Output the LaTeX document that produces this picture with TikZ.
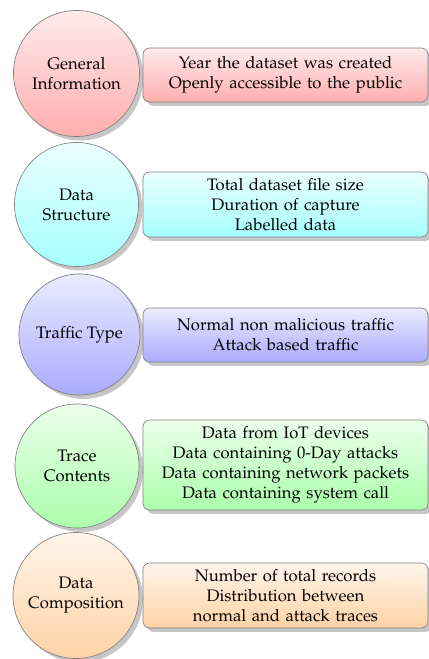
\documentclass[tikz,border=0pt]{standalone}
\usepackage[T1]{fontenc}
\usepackage{mathpazo}
\usetikzlibrary{shadows}
\begin{document}
\begin{tikzpicture}[x=0.6pt,y=-0.6pt,
  cat/.style={circle,draw=gray,thin,drop shadow={opacity=0.45},align=center,inner sep=0pt,text=black},
  info/.style={rectangle,rounded corners=4pt,draw=gray,thin,drop shadow={opacity=0.45},align=center,
    text width=165pt,minimum width=171pt,inner sep=0pt,text=black}]
\useasboundingbox (0,0) rectangle (429,659);
% General information
\node[cat,minimum size=75.6pt,top color=red!8,bottom color=red!32] (c1) at (76.5,73.5) {General\\Information};
\node[info,minimum height=32.4pt,top color=red!8,bottom color=red!32] (b1) at (285.5,75) {Year the dataset was created\\Openly accessible to the public};
% Data structure
\node[cat,minimum size=74.4pt,top color=cyan!8,bottom color=cyan!35] (c2) at (76.5,204.5) {Data\\Structure};
\node[info,minimum height=39pt,top color=cyan!8,bottom color=cyan!35] (b2) at (285.5,204.5) {Total dataset file size\\Duration of capture\\Labelled data};
% Traffic type
\node[cat,minimum size=72.6pt,top color=blue!8,bottom color=blue!33] (c3) at (79.5,334.5) {Traffic Type};
\node[info,minimum height=32.4pt,top color=blue!8,bottom color=blue!33] (b3) at (285.5,335) {Normal non malicious traffic\\Attack based traffic};
% Trace contents
\node[cat,minimum size=74.4pt,top color=green!8,bottom color=green!33] (c4) at (77,466) {Trace\\Contents};
\node[info,minimum height=54pt,top color=green!8,bottom color=green!33] (b4) at (285.5,465) {Data from IoT devices\\Data containing 0-Day attacks\\Data containing network packets\\Data containing system call};
% Data composition
\node[cat,minimum size=75.6pt,top color=orange!8,bottom color=orange!35] (c5) at (76,595.5) {Data\\Composition};
\node[info,minimum height=39pt,top color=orange!8,bottom color=orange!35] (b5) at (285.5,595.5) {Number of total records\\Distribution between\\normal and attack traces};
\end{tikzpicture}
\end{document}
